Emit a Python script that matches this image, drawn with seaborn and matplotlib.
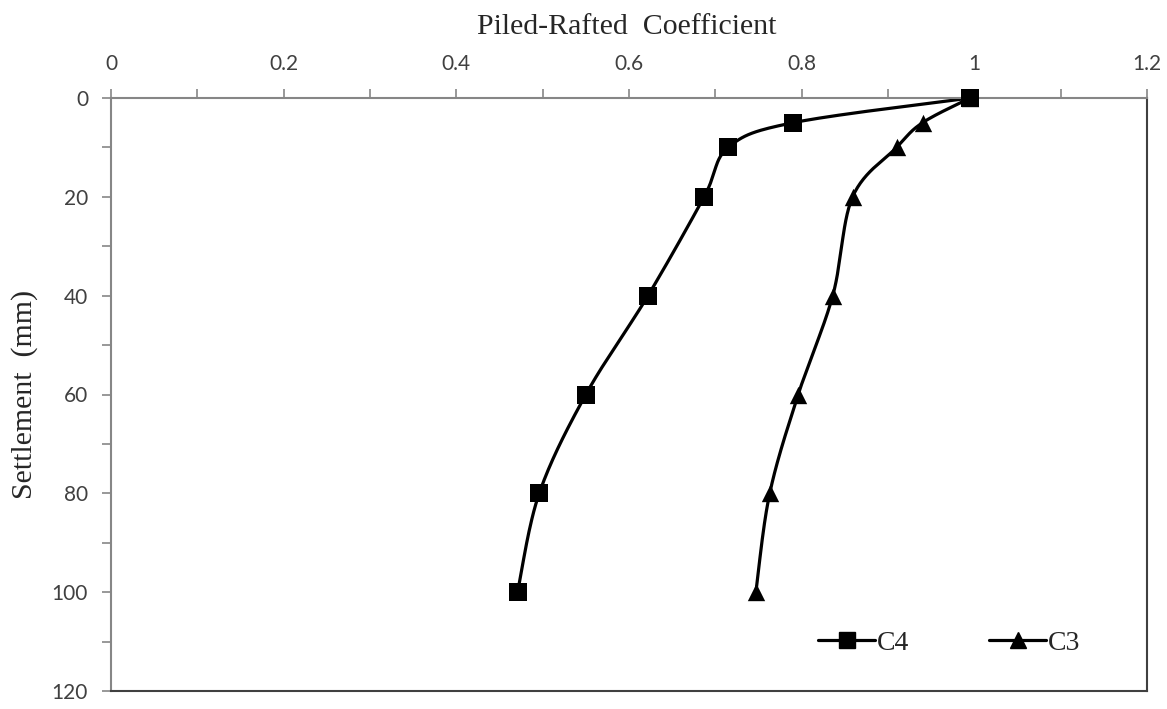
import numpy as np
import pandas as pd
import matplotlib
matplotlib.use("Agg")
import matplotlib.pyplot as plt
from matplotlib.lines import Line2D
from matplotlib.ticker import MultipleLocator
import seaborn as sns

# ---- data ----
settlement = [0, 5, 10, 20, 40, 60, 80, 100]
c4 = [0.995, 0.79, 0.715, 0.687, 0.622, 0.55, 0.496, 0.471]
c3 = [0.995, 0.94, 0.91, 0.859, 0.836, 0.796, 0.763, 0.747]
series_names = ["C4", "C3"]
x_ticks = [0, 0.2, 0.4, 0.6, 0.8, 1, 1.2]
x_tick_labels = ["0", "0.2", "0.4", "0.6", "0.8", "1", "1.2"]
y_ticks = [0, 20, 40, 60, 80, 100, 120]

sns.set_theme(style="white")
plt.rcParams['font.family'] = ['Lato', 'DejaVu Sans']

fig = plt.figure(figsize=(11.67, 7.09), dpi=100)
ax = fig.add_axes([111/1167, 1-691/709, (1147-111)/1167, (691-98)/709])


def smooth(xs, ys, sx, sy, n=30):
    """Excel-like smoothed line (Catmull-Rom Bezier) computed in display-scaled units."""
    P = np.column_stack([np.asarray(xs) * sx, np.asarray(ys) * sy])
    out = []
    m = len(P)
    for i in range(m - 1):
        p0 = P[i - 1] if i > 0 else P[i]
        p1 = P[i]
        p2 = P[i + 1]
        p3 = P[i + 2] if i + 2 < m else P[i + 1]
        c1 = p1 + (p2 - p0) / 6
        c2 = p2 - (p3 - p1) / 6
        t = np.linspace(0, 1, n)[:, None]
        seg = ((1 - t) ** 3) * p1 + 3 * ((1 - t) ** 2) * t * c1 + 3 * (1 - t) * t ** 2 * c2 + t ** 3 * p2
        if i > 0:
            seg = seg[1:]
        out.append(seg)
    out = np.vstack(out)
    return out[:, 0] / sx, out[:, 1] / sy


sx = 1036 / 1.2
sy = 593 / 120
markers = {"C4": "s", "C3": "^"}
msizes = {"C4": 12.5, "C3": 12.5}
handles = []
for name, vals in zip(series_names, [c4, c3]):
    cx, cy = smooth(vals, settlement, sx, sy)
    sns.lineplot(x=cx, y=cy, sort=False, estimator=None, color="black", lw=2.3, ax=ax)
    df = pd.DataFrame({"x": vals, "y": settlement})
    sns.scatterplot(data=df, x="x", y="y", marker=markers[name], s=msizes[name] ** 2,
                    color="black", edgecolor="black", linewidth=0, ax=ax, zorder=5)
    handles.append(Line2D([0], [0], color="black", lw=2.3, marker=markers[name],
                          markersize=11, label=name))
for coll in ax.collections:
    coll.set_clip_on(False)

ax.set_xlim(0, 1.2)
ax.set_ylim(120, 0)
ax.xaxis.tick_top()
ax.xaxis.set_label_position("top")
ax.set_xticks(x_ticks)
ax.set_xticklabels(x_tick_labels)
ax.set_yticks(y_ticks)
ax.xaxis.set_minor_locator(MultipleLocator(0.1))
ax.yaxis.set_minor_locator(MultipleLocator(10))
ax.tick_params(axis="both", which="both", direction="out", length=6.5, width=1.2,
               color="#868686", labelsize=15, labelcolor="#404040")
ax.tick_params(axis="x", which="both", top=True, bottom=False, pad=11)
ax.tick_params(axis="y", which="both", left=True, right=False, pad=10)

for side in ["left", "top"]:
    ax.spines[side].set_color("#868686")
    ax.spines[side].set_linewidth(1.5)
for side in ["right", "bottom"]:
    ax.spines[side].set_color("#404040")
    ax.spines[side].set_linewidth(1.5)
    ax.spines[side].set_visible(True)

serif = ["Liberation Serif", "DejaVu Serif"]
ax.set_xlabel("Piled-Rafted  Coefficient", fontsize=21.5, family=serif, color="#262626")
ax.set_ylabel("Settlement  (mm)", fontsize=21.5, family=serif, color="#262626")
ax.xaxis.label.set_va("center")
ax.yaxis.label.set_va("center")
ax.xaxis.set_label_coords(0.4976, (691 - 27) / 593)
ax.yaxis.set_label_coords((25 - 111) / 1036, (691 - 394) / 593)

leg = ax.legend(handles=handles, loc="center", bbox_to_anchor=(0.809, 0.081), ncol=2,
                frameon=False, handlelength=2.05, handletextpad=0.05, columnspacing=2.9,
                prop={"family": serif, "size": 20})

fig.savefig("out.png", dpi=100)
